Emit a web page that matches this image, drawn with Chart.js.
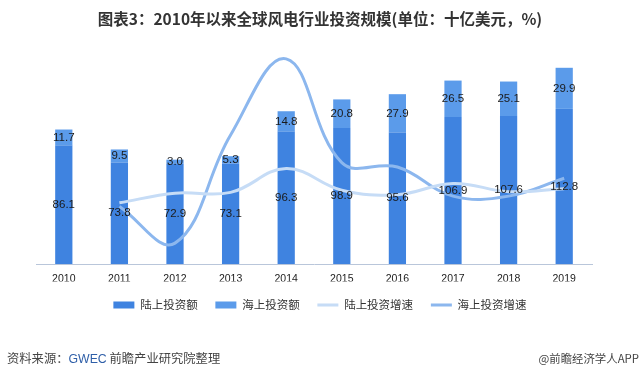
<!DOCTYPE html>
<html><head><meta charset="utf-8">
<script src="https://cdn.jsdelivr.net/npm/chart.js@4.4.1/dist/chart.umd.min.js"></script>
<style>
html,body{margin:0;padding:0;background:#fff;}
#wrap{position:relative;width:640px;height:377px;overflow:hidden;}
#c{position:absolute;left:0;top:0;}
.foot{position:absolute;top:349px;line-height:18px;font-family:"Noto Sans CJK SC","Noto Sans",sans-serif;color:#444;white-space:nowrap;}
#footL{left:7px;font-size:12.3px;}
#footR{right:1px;font-size:11.4px;}
</style></head><body>
<div id="wrap">
<canvas id="c" width="640" height="377"></canvas>
<div class="foot" id="footL">资料来源：<span style="color:#2f5fa8;font-family:'Liberation Sans',sans-serif;">GWEC</span> 前瞻产业研究院整理</div>
<div class="foot" id="footR">@前瞻经济学人APP</div>
</div>
<script>
const years = ['2010','2011','2012','2013','2014','2015','2016','2017','2018','2019'];
const onshore = [86.1, 73.8, 72.9, 73.1, 96.3, 98.9, 95.6, 106.9, 107.6, 112.8];
const offshore = [11.7, 9.5, 3.0, 5.3, 14.8, 20.8, 27.9, 26.5, 25.1, 29.9];
const onshoreGrowth = [null, -14, -1, 0, 32, 3, -3, 12, 1, 5];
const offshoreGrowth = [null, -19, -68, 77, 179, 40, 34, -5, -5, 19];
const seriesNames = ['陆上投资额', '海上投资额', '陆上投资增速', '海上投资增速'];
const titleText = '图表3：2010年以来全球风电行业投资规模(单位：十亿美元，%)';

const valueLabels = {
  id: 'valueLabels',
  afterDatasetsDraw(chart) {
    const ctx = chart.ctx;
    ctx.save();
    ctx.font = '11.5px "Liberation Sans", Arial, sans-serif';
    ctx.fillStyle = '#1a1a1a';
    ctx.textAlign = 'center';
    ctx.textBaseline = 'middle';
    [0, 1].forEach(di => {
      const meta = chart.getDatasetMeta(di);
      meta.data.forEach((el, i) => {
        const v = chart.data.datasets[di].data[i];
        const p = el.getCenterPoint();
        ctx.fillText(v.toFixed(1), p.x, p.y);
      });
    });
    ctx.restore();
  }
};

new Chart(document.getElementById('c'), {
  data: {
    labels: years,
    datasets: [
      { type: 'bar', label: seriesNames[0], data: onshore, backgroundColor: '#3f83e0', yAxisID: 'y', stack: 's', order: 1, barPercentage: 0.31, categoryPercentage: 1 },
      { type: 'bar', label: seriesNames[1], data: offshore, backgroundColor: '#5b9bea', yAxisID: 'y', stack: 's', order: 1, barPercentage: 0.31, categoryPercentage: 1 },
      { type: 'line', label: seriesNames[2], data: onshoreGrowth, borderColor: '#c6dcf6', backgroundColor: '#c6dcf6', borderWidth: 3, pointRadius: 0, tension: 0.4, yAxisID: 'y1', order: 0, spanGaps: false },
      { type: 'line', label: seriesNames[3], data: offshoreGrowth, borderColor: '#8cb7ee', backgroundColor: '#8cb7ee', borderWidth: 3, pointRadius: 0, tension: 0.4, yAxisID: 'y1', order: 0, spanGaps: false }
    ]
  },
  options: {
    responsive: false,
    animation: false,
    layout: { padding: { left: 0, right: 0, top: 0, bottom: 56.25 } },
    scales: {
      x: {
        stacked: true,
        grid: { display: false, drawTicks: false },
        border: { display: true, color: '#b9c6da', dash: [1, 2], width: 1 },
        ticks: { color: '#1a1a1a', font: { family: '"Liberation Sans", Arial, sans-serif', size: 10.5 }, padding: 8.5 },
        afterFit: s => { s.height = 17.5; }
      },
      y: {
        stacked: true, min: 0, max: 160,
        grid: { display: false, drawTicks: false },
        border: { display: false },
        ticks: { display: false },
        afterFit: s => { s.width = 36; }
      },
      y1: {
        position: 'right', min: -96, max: 199,
        grid: { display: false, drawTicks: false },
        border: { display: false },
        ticks: { display: false },
        afterFit: s => { s.width = 48; }
      }
    },
    plugins: {
      title: {
        display: true, text: titleText, color: '#333',
        font: { family: '"Noto Sans CJK SC", sans-serif', size: 15.5, weight: 'bold' },
        padding: { top: 9.7, bottom: 15.7 }
      },
      legend: {
        position: 'bottom',
        labels: {
          usePointStyle: true, pointStyleWidth: 21, boxHeight: 7, padding: 17.75,
          color: '#333', font: { family: '"Noto Sans CJK SC", sans-serif', size: 11.5 },
          sort: (a, b) => a.datasetIndex - b.datasetIndex,
          generateLabels: chart => chart.data.datasets.map((ds, i) => ({
            text: ds.label,
            datasetIndex: i,
            fillStyle: ds.backgroundColor,
            strokeStyle: ds.type === 'line' ? ds.borderColor : ds.backgroundColor,
            lineWidth: ds.type === 'line' ? 3 : 0,
            pointStyle: ds.type === 'line' ? 'line' : 'rect',
            fontColor: '#333',
            hidden: false
          }))
        }
      },
      tooltip: { enabled: false }
    }
  },
  plugins: [valueLabels]
});
</script>
</body></html>
